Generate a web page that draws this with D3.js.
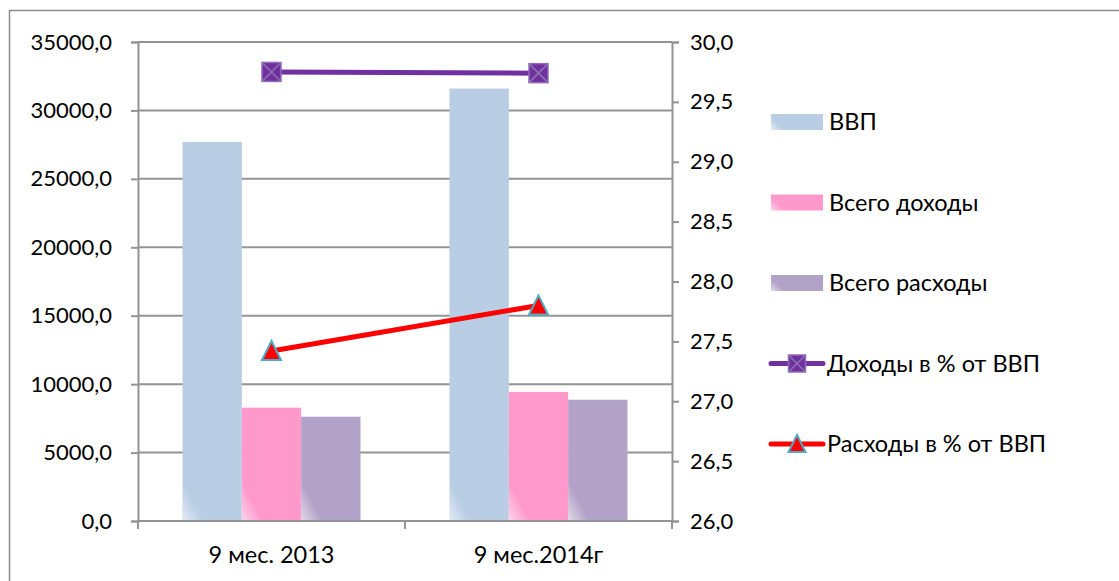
<!DOCTYPE html>
<html>
<head>
<meta charset="utf-8">
<script src="https://cdn.jsdelivr.net/npm/d3@7"></script>
<style>
  html, body { margin: 0; padding: 0; background: #fff; }
  svg { display: block; }
  text { font-family: Lato, "Open Sans", sans-serif; fill: #000; }
</style>
</head>
<body>
<svg id="chart" width="1119" height="581"></svg>
<script>
// ---- data ----
const categories = ["9 мес. 2013", "9 мес.2014г"];
const barSeries = ["ВВП", "Всего доходы", "Всего расходы"];
const gdp = [27700, 31600];
const revenues = [8280, 9430];
const expenditures = [7620, 8860];
const lineSeries = ["Доходы в % от ВВП", "Расходы в % от ВВП"];
const revenuePct = [29.75, 29.74];
const expenditurePct = [27.42, 27.80];
const leftTicks = [0, 5000, 10000, 15000, 20000, 25000, 30000, 35000];
const rightTicks = [26, 26.5, 27, 27.5, 28, 28.5, 29, 29.5, 30];

const barColors = ["#B9CDE5", "#FF99CC", "#B3A2C7"];
const barValues = [gdp, revenues, expenditures];

const svg = d3.select("#chart");
const plot = { left: 138, right: 672, top: 42, bottom: 521 };
const labelFont = "23.5px";

// outer frame
svg.append("rect").attr("x", 9.5).attr("y", 10.5).attr("width", 1300).attr("height", 800)
  .attr("fill", "none").attr("stroke", "#8C8C8C").attr("stroke-width", 1.5);

const x = d3.scaleBand().domain(categories).range([plot.left, plot.right]).padding(0);
const bw = x.bandwidth();
const barW = bw / 4.5; // gap width 150%
const xs = d3.scaleBand().domain(barSeries).range([barW * 0.75, bw - barW * 0.75]).padding(0);

const yL = d3.scaleLinear().domain([0, 35000]).range([plot.bottom, plot.top]);
const yR = d3.scaleLinear().domain([26, 30]).range([plot.bottom, plot.top]);
const fmt = v => d3.format(".1f")(v).replace(".", ",");

const gridColor = "#949494";

// gridlines
svg.append("g").selectAll("line").data(leftTicks).join("line")
  .attr("x1", plot.left).attr("x2", plot.right)
  .attr("y1", d => yL(d)).attr("y2", d => yL(d))
  .attr("stroke", gridColor).attr("stroke-width", 2);

// gradient for bar bottom-left highlight
const defs = svg.append("defs");
const grad = defs.append("linearGradient").attr("id", "shine")
  .attr("x1", 0).attr("y1", 1).attr("x2", 0.4).attr("y2", 0.5);
grad.append("stop").attr("offset", 0).attr("stop-color", "#fff").attr("stop-opacity", 0.6);
grad.append("stop").attr("offset", 1).attr("stop-color", "#fff").attr("stop-opacity", 0);

// bars
barSeries.forEach((s, i) => {
  const g = svg.append("g");
  g.selectAll("rect.bar").data(categories).join("rect").attr("class", "bar")
    .attr("x", c => x(c) + xs(s))
    .attr("y", (c, j) => yL(barValues[i][j]))
    .attr("width", xs.bandwidth())
    .attr("height", (c, j) => yL(0) - yL(barValues[i][j]))
    .attr("fill", barColors[i]);
  g.selectAll("rect.shine").data(categories).join("rect").attr("class", "shine")
    .attr("x", c => x(c) + xs(s))
    .attr("y", yL(0) - 50)
    .attr("width", xs.bandwidth() * 0.35)
    .attr("height", 50)
    .attr("fill", "url(#shine)");
});

// left axis
const axL = d3.axisLeft(yL).tickValues(leftTicks).tickFormat(fmt).tickSize(7).tickPadding(19);
const gL = svg.append("g").attr("transform", `translate(${plot.left},0)`).call(axL);
gL.select(".domain").attr("stroke", gridColor).attr("stroke-width", 2);
gL.selectAll(".tick line").attr("stroke", gridColor).attr("stroke-width", 2);
gL.selectAll("text").style("font-size", "22px").style("font-family", "Lato");

// right axis
const axR = d3.axisRight(yR).tickValues(rightTicks).tickFormat(fmt).tickSize(7).tickPadding(11);
const gR = svg.append("g").attr("transform", `translate(${plot.right},0)`).call(axR);
gR.select(".domain").attr("stroke", gridColor).attr("stroke-width", 2);
gR.selectAll(".tick line").attr("stroke", gridColor).attr("stroke-width", 2);
gR.selectAll("text").style("font-size", "22px").style("font-family", "Lato");

// bottom axis
const gB = svg.append("g").attr("transform", `translate(0,${plot.bottom})`);
gB.append("line").attr("x1", plot.left).attr("x2", plot.right)
  .attr("stroke", gridColor).attr("stroke-width", 2);
const bounds = [plot.left].concat(categories.map(c => x(c) + bw));
gB.selectAll("line.tk").data(bounds).join("line").attr("class", "tk")
  .attr("x1", d => d).attr("x2", d => d).attr("y1", 0).attr("y2", 8)
  .attr("stroke", gridColor).attr("stroke-width", 2);
gB.selectAll("text").data(categories).join("text")
  .attr("x", c => x(c) + bw / 2).attr("y", 42)
  .attr("text-anchor", "middle").style("font-size", labelFont).text(c => c);

// lines
const cx = c => x(c) + bw / 2;
const purple = "#7030A0";
const line = d3.line();
svg.append("path")
  .attr("d", line(categories.map((c, i) => [cx(c), yR(revenuePct[i])])))
  .attr("fill", "none").attr("stroke", purple).attr("stroke-width", 5);
svg.append("path")
  .attr("d", line(categories.map((c, i) => [cx(c), yR(expenditurePct[i])])))
  .attr("fill", "none").attr("stroke", "#FF0000").attr("stroke-width", 5);

function squareMarker(g, px, py, s) {
  g.append("rect").attr("x", px - s / 2).attr("y", py - s / 2).attr("width", s).attr("height", s)
    .attr("fill", purple).attr("stroke", "#8E6CBA").attr("stroke-width", 1.5);
  g.append("path").attr("d", `M${px - s / 2},${py - s / 2}L${px + s / 2},${py + s / 2}M${px + s / 2},${py - s / 2}L${px - s / 2},${py + s / 2}`)
    .attr("stroke", "#8E74B0").attr("stroke-width", 1.5);
}
function triMarker(g, px, py, s) {
  const h = s * 0.95;
  g.append("path").attr("d", `M${px},${py - h / 2 - 1}L${px + s / 2},${py + h / 2}L${px - s / 2},${py + h / 2}Z`)
    .attr("fill", "#FF0000").attr("stroke", "#4BACC6").attr("stroke-width", 2).attr("stroke-linejoin", "miter");
}
const mk = svg.append("g");
categories.forEach((c, i) => {
  squareMarker(mk, cx(c), yR(revenuePct[i]), 19);
  triMarker(mk, cx(c), yR(expenditurePct[i]), 19);
});

// legend
const leg = svg.append("g");
const legX = 771, textX = 829;
const rowBase = [130, 210.5, 291, 371.5, 452];
barSeries.forEach((s, i) => {
  leg.append("rect").attr("x", legX).attr("y", rowBase[i] - 16).attr("width", 52).attr("height", 16)
    .attr("fill", barColors[i]);
  leg.append("rect").attr("x", legX).attr("y", rowBase[i] - 16).attr("width", 14).attr("height", 16)
    .attr("fill", "url(#shine)");
  leg.append("text").attr("x", textX).attr("y", rowBase[i]).style("font-size", labelFont).text(s);
});
lineSeries.forEach((s, k) => {
  const i = k + 3;
  const ly = rowBase[i] - 8;
  leg.append("line").attr("x1", 771).attr("x2", 823).attr("y1", ly).attr("y2", ly)
    .attr("stroke", k === 0 ? purple : "#FF0000").attr("stroke-width", 5).attr("stroke-linecap", "round");
  if (k === 0) squareMarker(leg, 797, ly, 17); else triMarker(leg, 797, ly, 17);
  leg.append("text").attr("x", textX - 2).attr("y", rowBase[i]).style("font-size", labelFont).text(s);
});
</script>
</body>
</html>
